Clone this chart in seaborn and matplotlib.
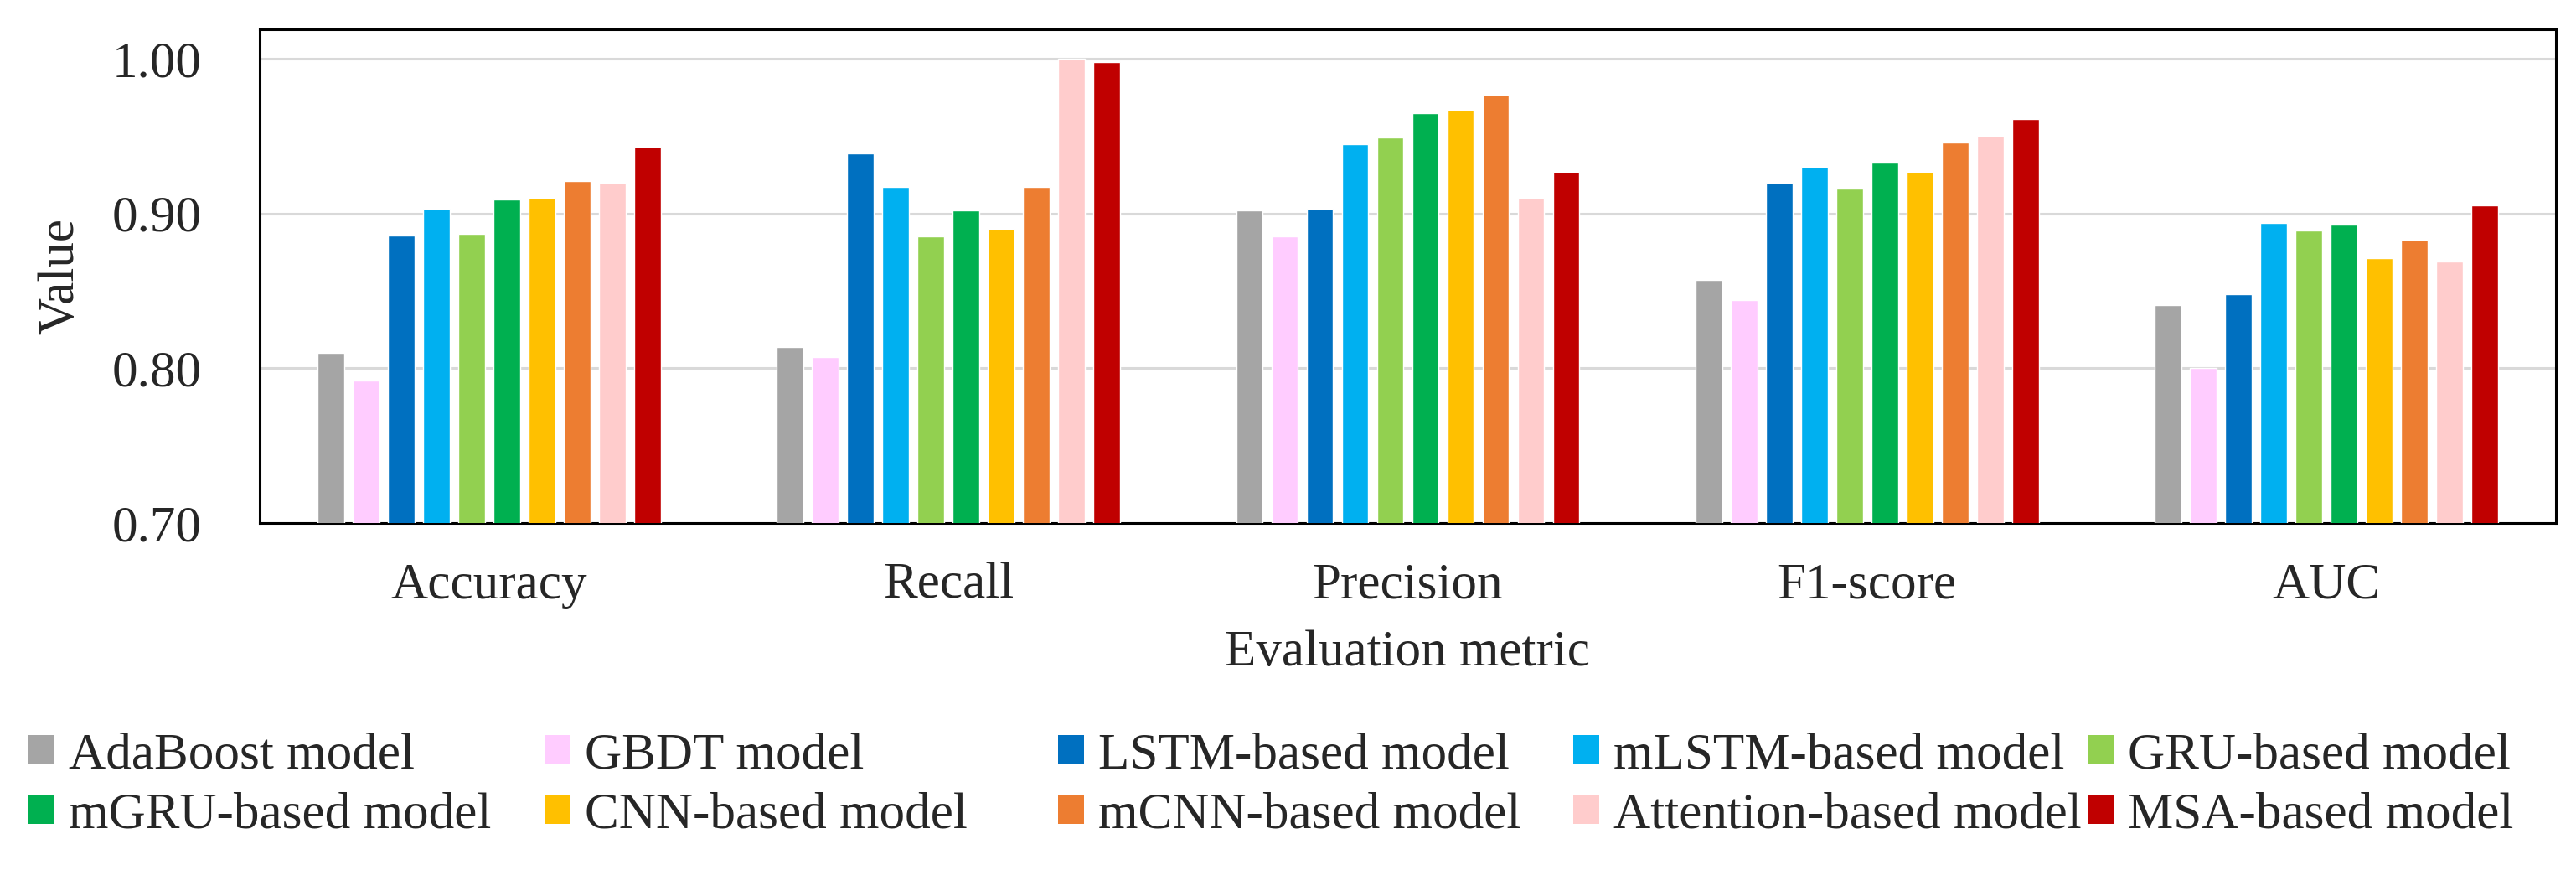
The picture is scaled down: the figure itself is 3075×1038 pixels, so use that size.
import matplotlib
matplotlib.use("Agg")
import matplotlib.pyplot as plt
from matplotlib.patches import Patch
import seaborn as sns
import pandas as pd

metrics = ["Accuracy", "Recall", "Precision", "F1-score", "AUC"]
models = ["AdaBoost model", "GBDT model", "LSTM-based model", "mLSTM-based model",
          "GRU-based model", "mGRU-based model", "CNN-based model", "mCNN-based model",
          "Attention-based model", "MSA-based model"]
colors = ["#A5A5A5", "#FFCCFF", "#0070C0", "#00B0F0", "#92D050",
          "#00B050", "#FFC000", "#ED7D31", "#FFCCCC", "#C00000"]

adaboost = [0.810, 0.814, 0.902, 0.857, 0.841]
gbdt = [0.792, 0.807, 0.885, 0.844, 0.800]
lstm = [0.886, 0.939, 0.903, 0.920, 0.848]
mlstm = [0.903, 0.917, 0.945, 0.930, 0.894]
gru = [0.887, 0.885, 0.949, 0.916, 0.889]
mgru = [0.909, 0.902, 0.965, 0.933, 0.893]
cnn = [0.910, 0.890, 0.967, 0.927, 0.871]
mcnn = [0.921, 0.917, 0.977, 0.946, 0.883]
attention = [0.920, 1.000, 0.910, 0.950, 0.869]
msa = [0.943, 0.998, 0.927, 0.961, 0.905]

series = [adaboost, gbdt, lstm, mlstm, gru, mgru, cnn, mcnn, attention, msa]
rows = []
for m, vals in zip(models, series):
    for met, v in zip(metrics, vals):
        rows.append({"metric": met, "model": m, "value": v})
df = pd.DataFrame(rows)

sns.set_style("white")
plt.rcParams["font.family"] = ["Liberation Serif", "DejaVu Serif"]
FS = 44

fig = plt.figure(figsize=(30.75, 10.38), dpi=100)
ax = fig.add_axes([310 / 3075, 1 - 624 / 1038, (3051 - 310) / 3075, (624 - 35) / 1038])

sns.barplot(data=df, x="metric", y="value", hue="model", hue_order=models,
            order=metrics, palette=colors, width=0.766, gap=0.24,
            saturation=1, ax=ax, legend=False, zorder=3)

ax.set_ylim(0.70, 1.019)
ax.set_yticks([0.70, 0.80, 0.90, 1.00])
ax.set_yticklabels([f"{t:.2f}" for t in [0.70, 0.80, 0.90, 1.00]])
ax.yaxis.grid(True, color="#D9D9D9", linewidth=2.2, zorder=0)
ax.set_axisbelow(True)
ax.tick_params(axis="both", length=0, labelsize=FS)
ax.tick_params(axis="y", pad=50)
ax.tick_params(axis="x", pad=34)
for s in ax.spines.values():
    s.set_color("black")
    s.set_linewidth(2.2)

ax.set_xlabel("Evaluation metric", fontsize=FS, labelpad=18)
ax.set_ylabel("Value", fontsize=FS, labelpad=24)

col_x = [34, 650, 1263, 1878, 2492]
for c in range(5):
    hs = []
    ls = []
    for r in range(2):
        i = r * 5 + c
        hs.append(Patch(facecolor=colors[i], edgecolor="none"))
        ls.append(models[i])
    fig.legend(hs, ls, loc="upper left", bbox_to_anchor=(col_x[c] / 3075, 1 - 874 / 1038),
               frameon=False, fontsize=FS, handlelength=0.5, handleheight=0.5,
               handletextpad=0.28, labelspacing=0.25, borderpad=0, borderaxespad=0)

fig.savefig("out.png", dpi=100, facecolor="white")
